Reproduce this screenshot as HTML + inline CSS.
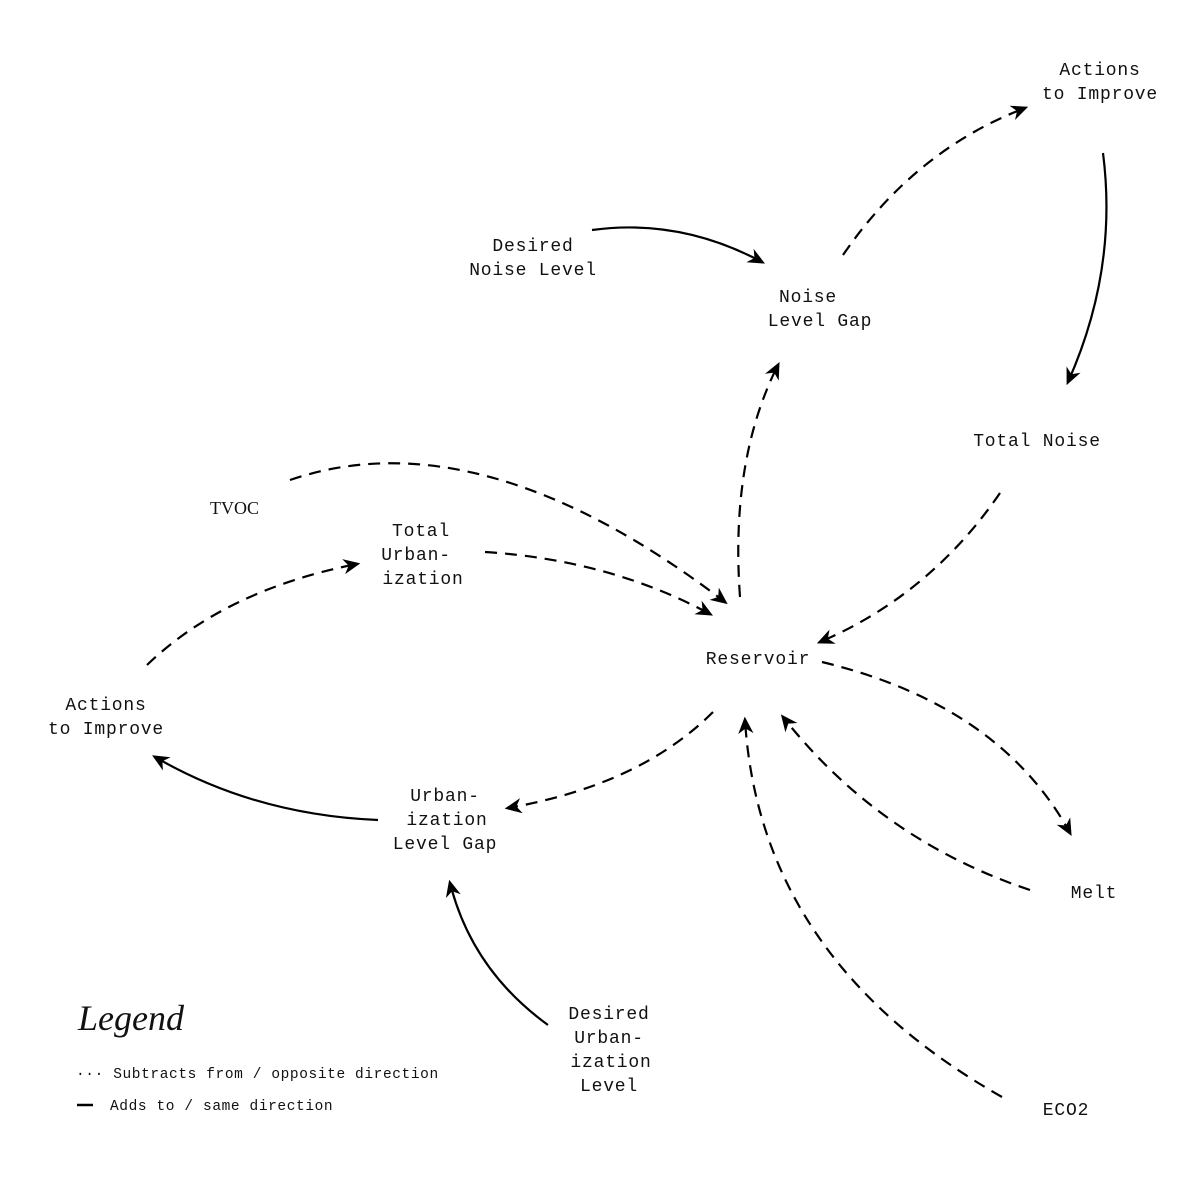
<!DOCTYPE html>
<html><head><meta charset="utf-8"><style>
html,body{margin:0;padding:0;background:#fff}
svg{display:block}
.t{font-family:"Liberation Mono",monospace;font-size:18px;letter-spacing:0.8px;fill:#111;text-anchor:middle}
.e{fill:none;stroke:#000;stroke-width:2.2}
.d{stroke-dasharray:12 8}
</style></head><body>
<svg width="1201" height="1201" viewBox="0 0 1201 1201" xmlns="http://www.w3.org/2000/svg">
<defs>
<marker id="a" viewBox="0 0 20 20" refX="16" refY="10" markerWidth="17" markerHeight="17" markerUnits="userSpaceOnUse" orient="auto">
<path d="M0,1 L20,10 L0,19 L6,10 Z" fill="#000"/>
</marker>
</defs>
<g marker-end="url(#a)">
<path class="e" d="M592,230 Q680,218 762,262"/>
<path class="e d" d="M843,255 Q915,150 1025,108"/>
<path class="e" d="M1103,153 Q1118,270 1068,382"/>
<path class="e d" d="M1000,493 Q930,595 820,642"/>
<path class="e d" d="M740,597 Q730,460 778,365"/>
<path class="e d" d="M290,480 Q480,415 725,602"/>
<path class="e d" d="M485,552 Q610,560 710,614"/>
<path class="e d" d="M147,665 Q225,590 357,564"/>
<path class="e d" d="M713,712 Q640,785 508,808"/>
<path class="e" d="M378,820 Q255,815 155,757"/>
<path class="e" d="M548,1025 Q472,970 450,883"/>
<path class="e d" d="M822,662 Q1000,705 1070,833"/>
<path class="e d" d="M1030,890 Q880,840 783,717"/>
<path class="e d" d="M1002,1097 Q760,960 745,720"/>
</g>
<text class="t" x="1100" y="75">Actions</text>
<text class="t" x="1100" y="99">to Improve</text>
<text class="t" x="533" y="251">Desired</text>
<text class="t" x="533" y="275">Noise Level</text>
<text class="t" x="808" y="302">Noise</text>
<text class="t" x="820" y="326">Level Gap</text>
<text class="t" x="1037" y="446">Total Noise</text>
<text x="210" y="514" style="font-family:'Liberation Serif',serif;font-size:18px;fill:#111">TVOC</text>
<text class="t" x="421" y="536">Total</text>
<text class="t" x="416" y="560">Urban-</text>
<text class="t" x="423" y="584">ization</text>
<text class="t" x="758" y="664">Reservoir</text>
<text class="t" x="106" y="710">Actions</text>
<text class="t" x="106" y="734">to Improve</text>
<text class="t" x="445" y="801">Urban-</text>
<text class="t" x="447" y="825">ization</text>
<text class="t" x="445" y="849">Level Gap</text>
<text class="t" x="1094" y="898">Melt</text>
<text class="t" x="609" y="1019">Desired</text>
<text class="t" x="609" y="1043">Urban-</text>
<text class="t" x="611" y="1067">ization</text>
<text class="t" x="609" y="1091">Level</text>
<text class="t" x="1066" y="1115">ECO2</text>
<text x="78" y="1030" style="font-family:'Liberation Serif',serif;font-style:italic;font-size:36px;fill:#111">Legend</text>
<text x="76" y="1078" style="font-family:'Liberation Mono',monospace;font-size:14.5px;fill:#111;letter-spacing:0.6px">··· Subtracts from / opposite direction</text>
<line x1="77" y1="1105" x2="93" y2="1105" stroke="#000" stroke-width="2.5"/>
<text x="110" y="1110" style="font-family:'Liberation Mono',monospace;font-size:14.5px;fill:#111;letter-spacing:0.6px">Adds to / same direction</text>
</svg>
</body></html>
